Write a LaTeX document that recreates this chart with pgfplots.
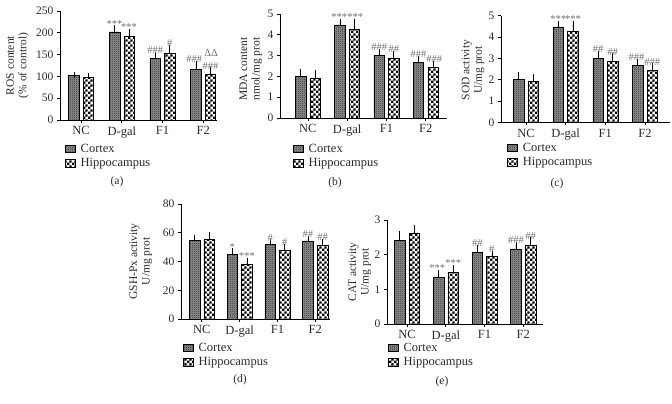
\documentclass[border=0pt]{standalone}
\usepackage{fontspec}
\setmainfont{Liberation Serif}
\usepackage{pgfplots}
\usepackage{pgfplotstable}
\pgfplotsset{compat=1.18}
\usetikzlibrary{patterns}
\definecolor{txt}{HTML}{2a2a2a}
\definecolor{ann}{HTML}{707070}
\pgfdeclarepatternformonly{finechecker}{\pgfpointorigin}{\pgfqpoint{2pt}{2pt}}{\pgfqpoint{2pt}{2pt}}{%
 \pgfpathrectangle{\pgfpointorigin}{\pgfqpoint{1pt}{1pt}}%
 \pgfpathrectangle{\pgfqpoint{1pt}{1pt}}{\pgfqpoint{1pt}{1pt}}%
 \pgfusepath{fill}}
\pgfdeclarepatternformonly{bigchecker}{\pgfpointorigin}{\pgfqpoint{5.2pt}{5.2pt}}{\pgfqpoint{5.2pt}{5.2pt}}{%
 \pgfpathrectangle{\pgfpointorigin}{\pgfqpoint{2.6pt}{2.6pt}}%
 \pgfpathrectangle{\pgfqpoint{2.6pt}{2.6pt}}{\pgfqpoint{2.6pt}{2.6pt}}%
 \pgfusepath{fill}}

\pgfplotstableread{
x c ce h he
0 102 2 98 2
1 202 8 191 11
2 141 9 153 13
3 116 13 106 9
}\tabA
\pgfplotstableread{
x c ce h he
0 2.00 0.20 1.93 0.22
1 4.47 0.14 4.28 0.33
2 3.00 0.18 2.87 0.22
3 2.67 0.18 2.45 0.17
}\tabB
\pgfplotstableread{
x c ce h he
0 2.00 0.20 1.92 0.22
1 4.47 0.14 4.28 0.35
2 3.00 0.20 2.87 0.23
3 2.67 0.18 2.45 0.17
}\tabC
\pgfplotstableread{
x c ce h he
0 54.5 2.0 55.2 3.0
1 45.0 2.0 38.0 2.5
2 51.8 1.5 48.0 2.2
3 53.8 2.0 51.2 2.5
}\tabD
\pgfplotstableread{
x c ce h he
0 2.42 0.17 2.63 0.15
1 1.35 0.12 1.49 0.13
2 2.07 0.13 1.94 0.09
3 2.15 0.13 2.26 0.15
}\tabE

\pgfplotsset{
 panel/.style={scale only axis, anchor=south west, ybar, bar width=10.5pt,
  axis lines=left, axis line style={black, -, line width=0.8pt}, ymin=0,
  xtick={0,1,2,3}, xticklabels={NC,D-gal,F1,F2},
  tick align=outside, major tick length=3pt,
  tick style={black, line width=0.8pt},
  /pgf/number format/assume math mode=true,
  tick label style={font=\fontsize{11.5}{13}\selectfont, text=txt},
  xticklabel style={font=\fontsize{12.5}{14}\selectfont, text=txt},
  ylabel style={align=center, font=\fontsize{11.5}{12.5}\selectfont, text=txt, anchor=center, rotate=0},
  clip=false,
  legend cell align=left,
  legend style={draw=none, fill=none, anchor=north west, font=\fontsize{12.5}{14}\selectfont, text=txt, row sep=0.5pt, inner sep=0pt},
  legend image code/.code={\draw[##1] (0pt,-3.7pt) rectangle (10pt,3.7pt); \path (13pt,0pt);},
  error bars/y dir=plus, error bars/y explicit,
  error bars/error mark options={mark size=3pt, line width=0.7pt, black},
  error bars/error bar style={line width=0.7pt, black},
 },
 ctx/.style={draw=black, line width=0.5pt, fill=black!45, postaction={pattern=finechecker, pattern color=black!80}, bar shift=-7.3pt},
 hip/.style={draw=black, line width=0.5pt, fill=white, postaction={pattern=bigchecker, pattern color=black}, bar shift=7.3pt},
}
\tikzset{an/.style={font=\fontsize{10.5}{11}\selectfont, text=ann, anchor=south, inner sep=1pt}}

\begin{document}
\begin{tikzpicture}
\path[use as bounding box] (0,0) rectangle (672pt,404pt);

% (a)
\begin{axis}[panel, at={(60pt,284pt)}, width=157pt, height=109pt,
  xmin=-0.52, xmax=3.34, ymax=250, ytick={0,50,...,250},
  ylabel={ROS content\\(\% of control)},
  every axis y label/.append style={at={(axis description cs:-0.27,0.5)}},
  legend style={at={(axis description cs:0.032,-0.2)}}]
\addplot[ctx] table[x=x, y=c, y error=ce] {\tabA};
\addplot[hip] table[x=x, y=h, y error=he] {\tabA};
\legend{Cortex, Hippocampus}
\node[an, xshift=-7.3pt] at (axis cs:1,210) {***};
\node[an, xshift=7.3pt] at (axis cs:1,202) {***};
\node[an, xshift=-7.3pt] at (axis cs:2,150) {\#\#\#};
\node[an, xshift=7.3pt] at (axis cs:2,166) {\#};
\node[an, xshift=-9pt] at (axis cs:3,129) {\#\#\#};
\node[an, xshift=7.3pt] at (axis cs:3,113) {\#\#\#};
\node[an, xshift=8pt] at (axis cs:3,142) {ΔΔ};
\end{axis}

% (b)
\begin{axis}[panel, at={(280pt,286pt)}, width=167pt, height=104pt,
  xmin=-0.71, xmax=3.54, ymax=5, ytick={0,1,...,5},
  ylabel={MDA content\\nmol/mg prot},
  every axis y label/.append style={at={(axis description cs:-0.175,0.47)}},
  legend style={at={(axis description cs:0.078,-0.23)}}]
\addplot[ctx] table[x=x, y=c, y error=ce] {\tabB};
\addplot[hip] table[x=x, y=h, y error=he] {\tabB};
\legend{Cortex, Hippocampus}
\node[an, xshift=-8pt] at (axis cs:1,4.61) {***};
\node[an, xshift=8pt] at (axis cs:1,4.61) {***};
\node[an, xshift=-7.3pt] at (axis cs:2,3.18) {\#\#\#};
\node[an, xshift=7.3pt] at (axis cs:2,3.09) {\#\#};
\node[an, xshift=-7.3pt] at (axis cs:3,2.85) {\#\#\#};
\node[an, xshift=8.5pt] at (axis cs:3,2.62) {\#\#\#};
\end{axis}

% (c)
\begin{axis}[panel, at={(501pt,281.7pt)}, width=169pt, height=106.6pt,
  xmin=-0.63, xmax=3.63, ymax=5, ytick={0,1,...,5},
  ylabel={SOD activity\\U/mg prot},
  every axis y label/.append style={at={(axis description cs:-0.165,0.49)}},
  legend style={at={(axis description cs:0.036,-0.175)}}]
\addplot[ctx] table[x=x, y=c, y error=ce] {\tabC};
\addplot[hip] table[x=x, y=h, y error=he] {\tabC};
\legend{Cortex, Hippocampus}
\node[an, xshift=-7.3pt] at (axis cs:1,4.61) {***};
\node[an, xshift=7.3pt] at (axis cs:1,4.63) {***};
\node[an, xshift=-7.3pt] at (axis cs:2,3.2) {\#\#};
\node[an, xshift=7.3pt] at (axis cs:2,3.1) {\#\#};
\node[an, xshift=-8.5pt] at (axis cs:3,2.85) {\#\#\#};
\node[an, xshift=7.3pt] at (axis cs:3,2.62) {\#\#\#};
\end{axis}

% (d)
\begin{axis}[panel, at={(181pt,85pt)}, width=149pt, height=115pt,
  xmin=-0.55, xmax=3.39, ymax=80, ytick={0,20,...,80},
  ylabel={GSH-Px activity\\U/mg prot},
  every axis y label/.append style={at={(axis description cs:-0.27,0.5)}},
  legend style={at={(axis description cs:0.013,-0.19)}}]
\addplot[ctx] table[x=x, y=c, y error=ce] {\tabD};
\addplot[hip] table[x=x, y=h, y error=he] {\tabD};
\legend{Cortex, Hippocampus}
\node[an, xshift=-7.3pt] at (axis cs:1,47) {*};
\node[an, xshift=7.3pt] at (axis cs:1,40.5) {***};
\node[an, xshift=-7.3pt] at (axis cs:2,53.3) {\#};
\node[an, xshift=7.3pt] at (axis cs:2,50.2) {\#};
\node[an, xshift=-7.3pt] at (axis cs:3,55.8) {\#\#};
\node[an, xshift=7.3pt] at (axis cs:3,53.7) {\#\#};
\end{axis}

% (e)
\begin{axis}[panel, at={(387pt,80pt)}, width=156pt, height=104pt,
  xmin=-0.52, xmax=3.51, ymax=3, ytick={0,1,2,3},
  ylabel={CAT activity\\U/mg prot},
  every axis y label/.append style={at={(axis description cs:-0.175,0.5)}},
  legend style={at={(axis description cs:0.006,-0.163)}}]
\addplot[ctx] table[x=x, y=c, y error=ce] {\tabE};
\addplot[hip] table[x=x, y=h, y error=he] {\tabE};
\legend{Cortex, Hippocampus}
\node[an, xshift=-8.5pt] at (axis cs:1,1.47) {***};
\node[an, xshift=7.3pt] at (axis cs:1,1.62) {***};
\node[an, xshift=-7.3pt] at (axis cs:2,2.2) {\#\#};
\node[an, xshift=7.3pt] at (axis cs:2,2.03) {\#};
\node[an, xshift=-7.3pt] at (axis cs:3,2.28) {\#\#\#};
\node[an, xshift=7.3pt] at (axis cs:3,2.41) {\#\#};
\end{axis}

\node[font=\fontsize{11.5}{13}\selectfont, text=txt] at (117pt,222pt) {(a)};
\node[font=\fontsize{11.5}{13}\selectfont, text=txt] at (335pt,221pt) {(b)};
\node[font=\fontsize{11.5}{13}\selectfont, text=txt] at (557pt,220pt) {(c)};
\node[font=\fontsize{11.5}{13}\selectfont, text=txt] at (240pt,24pt) {(d)};
\node[font=\fontsize{11.5}{13}\selectfont, text=txt] at (442pt,22pt) {(e)};
\end{tikzpicture}
\end{document}
